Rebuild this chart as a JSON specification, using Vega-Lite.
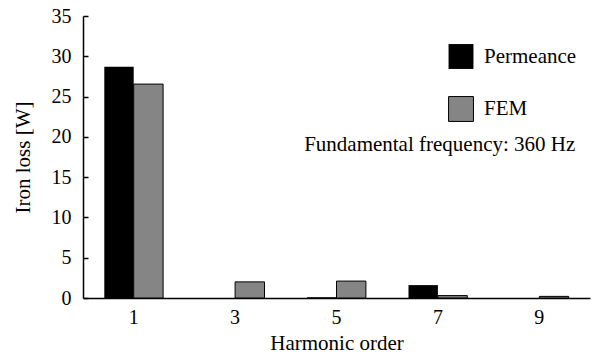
{
  "$schema": "https://vega.github.io/schema/vega-lite/v6.json",
  "width": 507,
  "height": 282,
  "autosize": {"type": "none"},
  "padding": {"left": 83, "top": 16, "right": 2, "bottom": 58},
  "background": "white",
  "config": {
    "view": {"stroke": null},
    "font": "Liberation Serif",
    "axis": {"labelFont": "Liberation Serif", "titleFont": "Liberation Serif", "labelColor": "black", "titleColor": "black", "domainColor": "black", "tickColor": "black", "labelFontSize": 20, "titleFontSize": 21, "titleFontWeight": "normal", "grid": false},
    "legend": {"labelFont": "Liberation Serif", "labelFontSize": 21, "labelColor": "black"}
  },
  "data": {
    "values": [
      {"order": "1", "series": "Permeance", "loss": 28.7},
      {"order": "1", "series": "FEM", "loss": 26.55},
      {"order": "3", "series": "Permeance", "loss": 0},
      {"order": "3", "series": "FEM", "loss": 2.0},
      {"order": "5", "series": "Permeance", "loss": 0.1},
      {"order": "5", "series": "FEM", "loss": 2.1},
      {"order": "7", "series": "Permeance", "loss": 1.6},
      {"order": "7", "series": "FEM", "loss": 0.3},
      {"order": "9", "series": "Permeance", "loss": 0},
      {"order": "9", "series": "FEM", "loss": 0.2}
    ]
  },
  "layer": [
    {
      "mark": {"type": "bar", "stroke": "black"},
      "encoding": {
        "x": {"field": "order", "type": "nominal", "sort": ["1", "3", "5", "7", "9"],
          "scale": {"paddingInner": 0.42, "paddingOuter": 0.21},
          "axis": {"title": "Harmonic order", "labelAngle": 0, "ticks": false, "labelPadding": 9, "titlePadding": 5, "domainWidth": 1.5}},
        "xOffset": {"field": "series", "sort": ["Permeance", "FEM"]},
        "y": {"field": "loss", "type": "quantitative",
          "scale": {"domain": [0, 35]},
          "axis": {"title": "Iron loss [W]", "values": [0, 5, 10, 15, 20, 25, 30, 35], "tickSize": -5, "labelPadding": 17, "titlePadding": 18, "domainWidth": 1.5, "tickWidth": 1.5}},
        "color": {"field": "series", "type": "nominal", "sort": ["Permeance", "FEM"],
          "scale": {"domain": ["Permeance", "FEM"], "range": ["#000000", "#858585"]},
          "legend": {"title": null, "orient": "none", "legendX": 365, "legendY": 28, "symbolType": "square", "symbolSize": 620, "symbolStrokeColor": "black", "symbolStrokeWidth": 1, "rowPadding": 25, "labelOffset": 10}},
        "strokeWidth": {"field": "series", "type": "nominal", "scale": {"domain": ["Permeance", "FEM"], "range": [0, 1]}, "legend": null}
      }
    },
    {
      "data": {"values": [{"note": "Fundamental frequency: 360 Hz"}]},
      "mark": {"type": "text", "align": "right", "baseline": "middle", "fontSize": 21, "font": "Liberation Serif", "fill": "black", "dx": 36},
      "encoding": {
        "x": {"datum": "9", "type": "nominal"},
        "y": {"datum": 19, "type": "quantitative"},
        "text": {"field": "note"}
      }
    }
  ]
}
